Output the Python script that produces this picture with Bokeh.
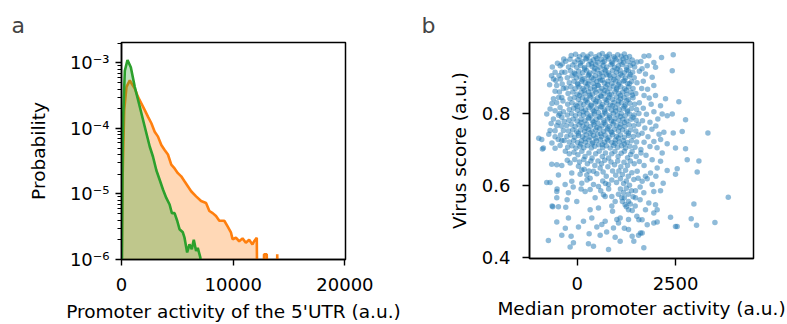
from bokeh.plotting import figure
from bokeh.layouts import row
from bokeh.models import Range1d, FixedTicker, CustomJSTickFormatter, ColumnDataSource
from bokeh.embed import file_html
from bokeh.resources import INLINE

FONT = "DejaVu Sans"

# ---------------- panel a: density curves (probability, log scale) ----------------
orange_x = [0, 20, 90, 240, 447, 743, 1190, 1487, 1784, 2081, 2377, 2674, 2970, 3267, 3564,
            3860, 4157, 4454, 4750, 5047, 5344, 5640, 5937, 6234, 6677, 7123, 7568, 7865,
            8162, 8459, 8755, 9200, 9497, 9794, 9942, 10239, 10535, 10832, 11129, 11426,
            11722, 11870, 12108, 12226, 12600, 12760, 13000, 13200, 13800, 13940, 14090, 20000]
orange_p = [1e-8, 1e-6, 1.5e-5, 1.9e-4, 4.3e-4, 5.4e-4, 4.05e-4, 3.0e-4, 2.4e-4, 1.9e-4, 1.5e-4,
            1.2e-4, 8.9e-5, 7.5e-5, 5.6e-5, 4.7e-5, 4.0e-5, 2.8e-5, 2.45e-5, 2.08e-5, 1.86e-5,
            1.56e-5, 1.31e-5, 1.1e-5, 9.2e-6, 7.8e-6, 7.3e-6, 5.5e-6, 5.1e-6, 4.6e-6, 3.9e-6,
            3.9e-6, 3.2e-6, 2.6e-6, 2.04e-6, 2.15e-6, 1.9e-6, 2.1e-6, 1.8e-6, 2.0e-6, 1.7e-6,
            1.9e-6, 2.15e-6, 1e-8, 1e-8, 1.2e-6, 1.2e-6, 1e-8, 1e-8, 1.2e-6, 1e-8, 1e-8]

green_x = [0, 40, 100, 150, 297, 537, 834, 1190, 1636, 2081, 2525, 2820, 3118, 3415, 3712,
           4008, 4305, 4510, 4750, 4985, 5194, 5490, 5640, 5877, 6083, 6290, 6470, 6677,
           6827, 7060, 7150, 20000]
green_p = [1e-8, 1e-6, 5e-5, 1.5e-4, 7.6e-4, 1.11e-3, 8.6e-4, 4.3e-4, 2.14e-4, 1.06e-4, 5.3e-5,
           3.7e-5, 2.3e-5, 1.65e-5, 1.17e-5, 8.7e-6, 6.9e-6, 5.1e-6, 5.1e-6, 3.9e-6, 2.9e-6,
           2.6e-6, 2.15e-6, 1.28e-6, 1.7e-6, 1.44e-6, 2.0e-6, 1.35e-6, 1.5e-6, 1.07e-6, 1e-8, 1e-8]

a_x_ticks = [0, 10000, 20000]
a_y_ticks = [1e-6, 1e-5, 1e-4, 1e-3]

# ---------------- panel b: scatter (median promoter activity vs virus score) ----------------
core_pts = [
    (-150,0.962),(-40,0.965),(60,0.958),(150,0.964),(270,0.960),(350,0.966),(470,0.958),(560,0.963),(640,0.967),(760,0.960),(820,0.965),(930,0.958),(1030,0.964),(1120,0.960),(1200,0.966),(1330,0.959),
    (-290,0.946),(-180,0.951),(-60,0.944),(20,0.950),(130,0.945),(220,0.952),(330,0.946),(410,0.950),(520,0.943),(610,0.951),(690,0.945),(800,0.952),(880,0.944),(990,0.950),(1090,0.946),(1170,0.952),(1290,0.945),(1400,0.949),(1520,0.944),
    (-220,0.930),(-110,0.935),(-10,0.929),(90,0.934),(190,0.928),(290,0.936),(380,0.931),(470,0.937),(580,0.929),(660,0.934),(750,0.930),(860,0.936),(950,0.928),(1050,0.933),(1140,0.937),(1250,0.929),(1350,0.934),(1460,0.930),
    (-310,0.915),(-170,0.919),(-70,0.913),(40,0.918),(140,0.914),(240,0.920),(320,0.913),(430,0.918),(510,0.922),(620,0.914),(720,0.919),(800,0.913),(900,0.920),(1000,0.915),(1090,0.921),(1200,0.914),(1300,0.919),(1410,0.915),(1580,0.918),
    (-250,0.900),(-130,0.905),(-20,0.899),(70,0.904),(180,0.898),(280,0.906),(370,0.900),(460,0.905),(560,0.899),(660,0.904),(750,0.908),(850,0.899),(940,0.905),(1040,0.900),(1140,0.906),(1230,0.899),(1330,0.904),(1450,0.900),
    (-200,0.886),(-80,0.890),(10,0.884),(110,0.889),(210,0.885),(300,0.891),(410,0.884),(500,0.889),(590,0.893),(690,0.885),(780,0.890),(880,0.884),(980,0.891),(1070,0.886),(1170,0.890),(1280,0.884),(1380,0.889),(1520,0.886),
    (-280,0.871),(-160,0.875),(-50,0.869),(50,0.874),(150,0.870),(250,0.876),(340,0.869),(440,0.874),(540,0.878),(630,0.870),(730,0.875),(830,0.869),(920,0.876),(1010,0.871),(1110,0.875),(1210,0.869),(1310,0.874),(1420,0.870),
    (-230,0.856),(-110,0.860),(0,0.854),(100,0.859),(200,0.855),(290,0.861),(390,0.854),(480,0.859),(580,0.863),(680,0.855),(770,0.860),(870,0.854),(960,0.861),(1060,0.856),(1160,0.860),(1260,0.854),(1370,0.859),(1490,0.856),
    (-180,0.841),(-70,0.845),(30,0.839),(130,0.844),(230,0.840),(330,0.846),(420,0.839),(520,0.844),(610,0.848),(710,0.840),(800,0.845),(900,0.839),(1000,0.846),(1100,0.841),(1190,0.845),(1300,0.839),(1420,0.844),
    (-240,0.826),(-130,0.830),(-30,0.824),(80,0.829),(170,0.825),(270,0.831),(360,0.824),(460,0.829),(560,0.833),(650,0.825),(750,0.830),(840,0.824),(940,0.831),(1040,0.826),(1130,0.830),(1230,0.824),(1340,0.829),(1460,0.826),(1580,0.830),
    (-200,0.811),(-90,0.815),(10,0.809),(110,0.814),(210,0.810),(300,0.816),(400,0.809),(490,0.814),(590,0.818),(690,0.810),(780,0.815),(880,0.809),(970,0.816),(1070,0.811),(1170,0.815),(1270,0.809),(1380,0.814),(1510,0.811),
    (-250,0.796),(-140,0.800),(-40,0.794),(60,0.799),(160,0.795),(250,0.801),(350,0.794),(440,0.799),(540,0.803),(640,0.795),(730,0.800),(830,0.794),(920,0.801),(1020,0.796),(1120,0.800),(1220,0.794),(1330,0.799),(1450,0.796),(1570,0.800),
    (-210,0.781),(-100,0.785),(0,0.779),(100,0.784),(200,0.780),(290,0.786),(390,0.779),(480,0.784),(580,0.788),(680,0.780),(770,0.785),(870,0.779),(960,0.786),(1060,0.781),(1160,0.785),(1260,0.779),(1370,0.784),(1500,0.781),
    (-270,0.766),(-150,0.770),(-50,0.764),(50,0.769),(150,0.765),(240,0.771),(340,0.764),(430,0.769),(530,0.773),(630,0.765),(720,0.770),(820,0.764),(910,0.771),(1010,0.766),(1110,0.770),(1210,0.764),(1320,0.769),(1440,0.766),(1560,0.770),
    (-220,0.751),(-110,0.755),(-10,0.749),(90,0.754),(190,0.750),(280,0.756),(380,0.749),(470,0.754),(570,0.758),(670,0.750),(760,0.755),(860,0.749),(950,0.756),(1050,0.751),(1150,0.755),(1250,0.749),(1360,0.754),(1490,0.751),
    (-260,0.736),(-160,0.740),(-60,0.734),(40,0.739),(140,0.735),(230,0.741),(330,0.734),(420,0.739),(520,0.743),(620,0.735),(710,0.740),(810,0.734),(900,0.741),(1000,0.736),(1100,0.740),(1200,0.734),(1310,0.739),(1430,0.736),(1550,0.740),
    (-200,0.721),(-90,0.725),(10,0.719),(110,0.724),(210,0.720),(300,0.726),(400,0.719),(490,0.724),(590,0.728),(690,0.720),(780,0.725),(880,0.719),(970,0.726),(1070,0.721),(1170,0.725),(1270,0.719),(1380,0.724),(1510,0.721),
    (-240,0.706),(-130,0.710),(-30,0.704),(70,0.709),(170,0.705),(260,0.711),(360,0.704),(450,0.709),(550,0.713),(650,0.705),(740,0.710),(840,0.704),(930,0.711),(1030,0.706),(1130,0.710),(1230,0.704),(1340,0.709),(1470,0.706),
]
core_extra_pts = [
    (240,0.955),(500,0.953),(720,0.957),(960,0.954),(1240,0.956),
    (80,0.941),(370,0.939),(650,0.943),(900,0.940),(1180,0.942),(1420,0.939),
    (190,0.924),(450,0.926),(700,0.923),(1020,0.925),(1260,0.922),
    (-50,0.910),(300,0.908),(560,0.911),(820,0.907),(1100,0.910),(1350,0.909),
    (130,0.894),(420,0.896),(640,0.893),(930,0.895),(1200,0.892),
    (20,0.880),(280,0.882),(520,0.879),(770,0.881),(1050,0.880),(1330,0.883),
    (180,0.865),(450,0.866),(700,0.864),(1000,0.867),(1250,0.865),
    (60,0.850),(320,0.851),(600,0.849),(820,0.852),(1100,0.850),(1400,0.851),
    (220,0.836),(480,0.834),(760,0.837),(1050,0.835),(1260,0.836),
    (0,0.820),(350,0.821),(620,0.819),(900,0.822),(1200,0.820),
    (150,0.805),(430,0.806),(700,0.804),(980,0.807),(1280,0.805),
    (300,0.790),(560,0.791),(820,0.789),(1100,0.792),(1420,0.790),
    (100,0.775),(420,0.776),(680,0.774),(930,0.777),(1200,0.775),
    (220,0.760),(500,0.761),(780,0.759),(1080,0.762),
    (30,0.745),(330,0.746),(600,0.744),(880,0.747),(1300,0.745),
    (200,0.730),(470,0.731),(760,0.729),(1050,0.732),
    (90,0.715),(380,0.716),(640,0.714),(960,0.717),(1200,0.715),
]
left_pts = [
    (-630,0.930),(-560,0.915),(-500,0.940),(-430,0.933),(-390,0.915),(-340,0.952),(-420,0.896),(-600,0.896),
    (-520,0.878),(-350,0.870),(-450,0.860),(-602,0.841),(-390,0.845),(-520,0.830),(-687,0.813),(-433,0.817),
    (-350,0.805),(-772,0.799),(-390,0.790),(-602,0.785),(-480,0.776),(-518,0.766),(-687,0.753),(-348,0.753),
    (-420,0.740),(-560,0.735),(-899,0.728),(-975,0.731),(-390,0.725),(-640,0.718),(-433,0.711),(-857,0.704),
    (-560,0.703),(-330,0.778),(-330,0.725),(-700,0.880),(-470,0.795),
    (-650,0.905),(-540,0.892),(-460,0.905),(-380,0.882),(-560,0.862),(-470,0.845),(-640,0.828),(-360,0.835),
    (-560,0.808),(-440,0.800),(-660,0.772),(-400,0.765),(-560,0.752),(-480,0.728),(-720,0.742),(-380,0.938),
]
right_pts = [
    (1700,0.960),(1822,0.961),(2144,0.956),(2441,0.964),(1949,0.942),(1780,0.933),(1991,0.929),(2416,0.919),
    (1650,0.925),(1736,0.910),(1620,0.945),(1906,0.901),(1680,0.890),(1948,0.878),(1790,0.868),(1640,0.870),
    (1991,0.850),(2245,0.841),(2584,0.833),(1830,0.843),(1700,0.850),(2118,0.822),(1880,0.826),(1680,0.815),
    (1950,0.805),(2160,0.799),(2289,0.794),(2416,0.799),(1760,0.798),(2050,0.785),(2754,0.783),(1850,0.776),
    (1660,0.780),(2000,0.765),(2669,0.750),(2441,0.746),(2203,0.748),(1900,0.756),(1720,0.760),(2080,0.742),
    (1800,0.735),(1650,0.745),(2287,0.716),(1950,0.722),(2120,0.728),(1700,0.720),(2499,0.704),(2754,0.702),
    (1850,0.708),(2030,0.705),(1620,0.700),(3322,0.746),
]
mid_pts = [
    (-882,0.701),(-645,0.659),(-517,0.657),(-390,0.655),(-178,0.662),(34,0.653),(118,0.643),(-475,0.629),
    (-136,0.634),(76,0.631),(246,0.629),(415,0.639),(585,0.648),(-772,0.608),(-687,0.608),(-305,0.602),
    (-136,0.611),(118,0.606),(415,0.602),(542,0.597),(796,0.602),
    (1397,0.694),(1906,0.671),(2118,0.667),(2160,0.690),(2796,0.671),(3093,0.668),(3050,0.637),(2542,0.646),
    (2499,0.631),(2287,0.641),(2033,0.648),(1864,0.634),(1736,0.625),(1525,0.639),(1440,0.616),(1652,0.611),
    (1906,0.602),(2186,0.606),
    (-300,0.695),(-200,0.688),(-80,0.692),(20,0.685),(120,0.695),(200,0.680),(300,0.690),(380,0.676),
    (470,0.688),(560,0.695),(640,0.680),(720,0.690),(800,0.676),(880,0.688),(960,0.694),(1040,0.680),
    (1120,0.689),(1200,0.695),(1280,0.677),(1360,0.686),(1500,0.680),(1620,0.690),(1750,0.684),
    (-250,0.670),(-60,0.672),(60,0.665),(170,0.672),(260,0.660),(350,0.668),(450,0.655),(530,0.668),
    (620,0.660),(700,0.670),(780,0.652),(860,0.665),(950,0.657),(1030,0.668),(1110,0.652),(1190,0.664),
    (1280,0.655),(1350,0.668),(1450,0.660),(1580,0.666),(1700,0.655),
    (180,0.645),(300,0.640),(500,0.632),(660,0.637),(740,0.625),(900,0.640),(980,0.628),(1060,0.640),
    (1150,0.630),(1230,0.642),(1300,0.625),(1390,0.635),
    (250,0.615),(330,0.620),(650,0.612),(720,0.605),(880,0.615),(1000,0.608),(1100,0.618),(1180,0.605),
    (1250,0.612),(1330,0.600),(1550,0.620),(1780,0.618),(2000,0.625),
]
low_pts = [
    (-517,0.583),(-221,0.579),(203,0.583),(330,0.588),(669,0.574),(881,0.569),(1135,0.565),(1305,0.555),
    (-517,0.565),(-9,0.555),(457,0.565),(712,0.569),(966,0.555),(1220,0.546),(1475,0.542),(-619,0.540),
    (-475,0.540),(-289,0.539),(330,0.532),(542,0.537),(881,0.542),(1305,0.532),(-221,0.509),(161,0.500),
    (373,0.509),(712,0.500),(1008,0.505),(1093,0.509),(1305,0.505),(1517,0.514),
    (1694,0.579),(1482,0.565),(1600,0.560),(1821,0.551),(1991,0.546),(2033,0.532),(1948,0.523),(1736,0.532),
    (1567,0.504),(1650,0.504),(2372,0.511),(2898,0.507),(2966,0.548),(3839,0.567),(1482,0.585),(1948,0.583),
    (2118,0.585),
    (1100,0.590),(1180,0.580),(1250,0.592),(1300,0.575),(1380,0.585),(1420,0.568),(1200,0.565),(1050,0.575),
    (1150,0.555),(1350,0.548),(1250,0.540),(1400,0.530),(800,0.590),(600,0.585),(100,0.590),(-100,0.595),
    (900,0.528),(1600,0.595),(-254,0.560),(-509,0.590),(-636,0.542),
]
bottom_pts = [
    (-517,0.498),(34,0.484),(500,0.484),(627,0.491),(923,0.481),(1051,0.495),(1305,0.477),(-390,0.461),
    (-153,0.458),(305,0.465),(585,0.461),(966,0.455),(1560,0.461),(-730,0.446),(-94,0.440),(288,0.437),
    (415,0.430),(797,0.421),(-178,0.428),(1093,0.444),(1609,0.467),(1652,0.467),(1440,0.444),(1694,0.426),
    (1397,0.458),(1948,0.495),(2033,0.498),(2499,0.485),(2541,0.485),(3033,0.489),(3500,0.496),(1780,0.490),
    (1200,0.480),(750,0.470),(-300,0.480),
]

b_x_ticks = [0, 2500]
b_y_ticks = [0.4, 0.6, 0.8]

ORANGE = "#ff7f0e"
GREEN = "#2ca02c"
BLUE = "#1f77b4"


def style(p, tick_out, x_standoff, x_label_standoff, y_standoff, y_label_standoff):
    p.outline_line_color = "black"
    p.outline_line_width = 1.5
    p.outline_line_alpha = 1
    p.xgrid.visible = False
    p.ygrid.visible = False
    p.background_fill_color = "white"
    p.border_fill_color = "white"
    for ax in (p.xaxis[0], p.yaxis[0]):
        ax.axis_line_color = "black"
        ax.axis_line_width = 1.5
        ax.major_tick_line_color = "black"
        ax.major_tick_line_width = 1.4
        ax.major_tick_out = tick_out
        ax.major_tick_in = 0
        ax.minor_tick_line_color = None
        ax.major_label_text_font = FONT
        ax.major_label_text_font_size = "18px"
        ax.major_label_text_color = "black"
        ax.axis_label_text_font = FONT
        ax.axis_label_text_font_size = "18.5px"
        ax.axis_label_text_font_style = "normal"
        ax.axis_label_text_color = "black"
    p.xaxis.major_label_standoff = x_standoff
    p.xaxis.axis_label_standoff = x_label_standoff
    p.yaxis.major_label_standoff = y_standoff
    p.yaxis.axis_label_standoff = y_label_standoff
    p.title.text_font = FONT
    p.title.text_font_size = "22px"
    p.title.text_font_style = "normal"
    p.title.align = "left"
    p.title.standoff = 10


# ---------- panel a ----------
pa = figure(frame_width=224, frame_height=217, width=400, height=324,
            x_range=Range1d(0, 20050), y_range=Range1d(1e-6, 2.05e-3),
            y_axis_type="log", output_backend="svg", toolbar_location=None,
            min_border_left=121, min_border_right=55, min_border_top=42, min_border_bottom=65,
            title="a")
style(pa, tick_out=6, x_standoff=12, x_label_standoff=7, y_standoff=6, y_label_standoff=18)
pa.title.offset = -110

floor_a = [1e-9] * len(orange_x)
pa.varea(x=orange_x, y1=floor_a, y2=orange_p, fill_color=ORANGE, fill_alpha=0.3)
pa.line(orange_x, orange_p, line_color=ORANGE, line_width=2.6)
floor_g = [1e-9] * len(green_x)
pa.varea(x=green_x, y1=floor_g, y2=green_p, fill_color=GREEN, fill_alpha=0.3)
pa.line(green_x, green_p, line_color=GREEN, line_width=2.6)

minor = [k * 10.0 ** e for e in range(-6, -2) for k in range(2, 10)]
pa.yaxis.ticker = FixedTicker(ticks=a_y_ticks, minor_ticks=minor)
pa.yaxis.minor_tick_line_color = "black"
pa.yaxis.minor_tick_line_width = 1.0
pa.yaxis.minor_tick_out = 4
pa.yaxis.minor_tick_in = 0
pa.yaxis.formatter = CustomJSTickFormatter(code="""
const sup = {"-": "\u207b", "0": "\u2070", "1": "\u00b9", "2": "\u00b2", "3": "\u00b3",
             "4": "\u2074", "5": "\u2075", "6": "\u2076", "7": "\u2077", "8": "\u2078", "9": "\u2079"};
const e = Math.round(Math.log10(tick));
return "10" + String(e).split("").map(c => sup[c]).join("");
""")
pa.xaxis.ticker = FixedTicker(ticks=a_x_ticks)
pa.xaxis.axis_label = "Promoter activity of the 5'UTR (a.u.)"
pa.yaxis.axis_label = "Probability"

# ---------- panel b ----------
all_pts = core_pts + core_extra_pts + left_pts + right_pts + mid_pts + low_pts + bottom_pts
src = ColumnDataSource(dict(x=[p[0] for p in all_pts], y=[p[1] for p in all_pts]))

pb = figure(frame_width=224, frame_height=216, width=387, height=324,
            x_range=Range1d(-1210, 4480), y_range=Range1d(0.396, 0.998),
            output_backend="svg", toolbar_location=None,
            min_border_left=129, min_border_right=34, min_border_top=42, min_border_bottom=66,
            title="b")
style(pb, tick_out=7, x_standoff=11, x_label_standoff=5, y_standoff=12, y_label_standoff=9)
pb.title.offset = -108
pb.scatter("x", "y", source=src, size=5.5, fill_color=BLUE, fill_alpha=0.5, line_color=None)
pb.xaxis.ticker = FixedTicker(ticks=b_x_ticks)
pb.yaxis.ticker = FixedTicker(ticks=b_y_ticks)
pb.xaxis.axis_label = "Median promoter activity (a.u.)"
pb.yaxis.axis_label = "Virus score (a.u.)"

layout = row(pa, pb)
open("out.html", "w").write(file_html(layout, INLINE))
